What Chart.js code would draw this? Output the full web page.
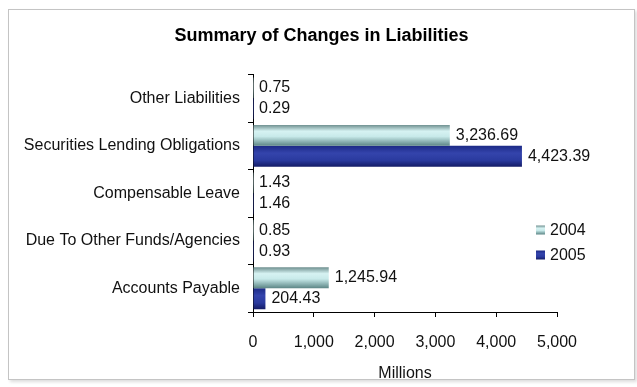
<!DOCTYPE html>
<html>
<head>
<meta charset="utf-8">
<script src="https://cdn.jsdelivr.net/npm/chart.js@4/dist/chart.umd.min.js"></script>
<style>
  html, body { margin: 0; padding: 0; background: #fff; }
  #box { position: absolute; left: 8px; top: 9px; width: 625px; height: 369px;
         border: 1px solid #c4c4c4; box-shadow: 2px 2px 3px #ddd; background: #fff; }
  canvas { display: block; }
</style>
</head>
<body>
<div id="box"><canvas id="chart" width="625" height="369"></canvas></div>
<script>
var categories = ['Other Liabilities', 'Securities Lending Obligations', 'Compensable Leave',
                  'Due To Other Funds/Agencies', 'Accounts Payable'];
var seriesNames = ['2004', '2005'];
var values2004 = [0.75, 3236.69, 1.43, 0.85, 1245.94];
var values2005 = [0.29, 4423.39, 1.46, 0.93, 204.43];
var xTicks = [0, 1000, 2000, 3000, 4000, 5000];

var catPct = 0.88;
var font = "'Liberation Sans', Arial, sans-serif";
var fontSize = 16;

// colour stops for the shaded (cylinder look) bars
var tealStops = [[0, '#6f9090'], [0.3, '#d6f2f2'], [0.55, '#c8eaea'], [1, '#5b8585']];
var blueStops = [[0, '#1c2a86'], [0.35, '#3444ac'], [0.7, '#2a3a9e'], [1, '#141c66']];

function makeGrad(c, y0, y1, stops) {
  var g = c.createLinearGradient(0, y0, 0, y1);
  stops.forEach(function (s) { g.addColorStop(s[0], s[1]); });
  return g;
}

function barFill(stops) {
  return function (ctx) {
    var chart = ctx.chart;
    var ys = chart.scales && chart.scales.y;
    if (!chart.chartArea || !ys || ctx.dataIndex === undefined) return stops[1][1];
    var band = (ys.bottom - ys.top) / categories.length;
    var th = band * catPct / 2;
    var top = ys.getPixelForValue(ctx.dataIndex) - band * catPct / 2 + ctx.datasetIndex * th;
    return makeGrad(chart.ctx, top, top + th, stops);
  };
}

function fmt(v) {
  return v.toLocaleString('en-US', { minimumFractionDigits: 2, maximumFractionDigits: 2 });
}

// value labels at the end of each bar
var valueLabels = {
  id: 'valueLabels',
  afterDatasetsDraw: function (chart) {
    var c = chart.ctx;
    c.save();
    c.font = fontSize + 'px ' + font;
    c.fillStyle = '#111';
    c.textBaseline = 'middle';
    c.textAlign = 'left';
    chart.data.datasets.forEach(function (ds, i) {
      chart.getDatasetMeta(i).data.forEach(function (bar, j) {
        c.fillText(fmt(ds.data[j]), bar.x + 6, bar.y);
      });
    });
    c.restore();
  }
};

// legend box on the right, like the original
var sideLegend = {
  id: 'sideLegend',
  afterDraw: function (chart) {
    var c = chart.ctx;
    var x = 527, y = 220, gap = 25;
    var stops = [tealStops, blueStops];
    c.save();
    c.font = fontSize + 'px ' + font;
    c.textBaseline = 'middle';
    seriesNames.forEach(function (name, i) {
      var yy = y + i * gap;
      c.fillStyle = makeGrad(c, yy - 4.5, yy + 4.5, stops[i]);
      c.fillRect(x, yy - 4.5, 9, 9);
      c.fillStyle = '#111';
      c.fillText(name, x + 14, yy + 1);
    });
    c.restore();
  }
};

new Chart(document.getElementById('chart'), {
  type: 'bar',
  data: {
    labels: categories,
    datasets: [
      { label: seriesNames[0], data: values2004, backgroundColor: barFill(tealStops) },
      { label: seriesNames[1], data: values2005, backgroundColor: barFill(blueStops) }
    ]
  },
  options: {
    indexAxis: 'y',
    responsive: false,
    animation: false,
    categoryPercentage: catPct,
    barPercentage: 1,
    layout: { padding: 0 },
    plugins: {
      legend: { display: false },
      tooltip: { enabled: false },
      title: {
        display: true,
        text: 'Summary of Changes in Liabilities',
        color: '#000',
        font: { family: font, size: 18, weight: 'bold' },
        padding: { top: 15, bottom: 28 }
      }
    },
    scales: {
      x: {
        min: 0,
        max: 5000,
        afterBuildTicks: function (s) { s.ticks = xTicks.map(function (v) { return { value: v }; }); },
        afterFit: function (s) { s.height = 67; },
        grid: { drawOnChartArea: false, color: '#000', tickLength: 5, tickColor: '#000' },
        border: { color: '#000', width: 1 },
        ticks: {
          color: '#111', padding: 16, font: { family: font, size: fontSize },
          callback: function (v) { return v.toLocaleString('en-US'); }
        },
        title: { display: true, text: 'Millions', color: '#111', font: { family: font, size: fontSize, lineHeight: 1 },
                 padding: { top: 0, bottom: -3 } }
      },
      y: {
        afterFit: function (s) { s.width = 244; },
        grid: { drawOnChartArea: false, offset: true, tickLength: 5, tickColor: '#000' },
        border: { color: '#000', width: 1 },
        ticks: { color: '#111', padding: 8, font: { family: font, size: fontSize } }
      },
      // empty spacer on the right so the plot stops where the legend begins
      spacer: {
        type: 'category',
        axis: 'y',
        position: 'right',
        afterFit: function (s) { s.width = 77; },
        grid: { display: false },
        border: { display: false },
        ticks: { display: false }
      }
    }
  },
  plugins: [valueLabels, sideLegend]
});
</script>
</body>
</html>
